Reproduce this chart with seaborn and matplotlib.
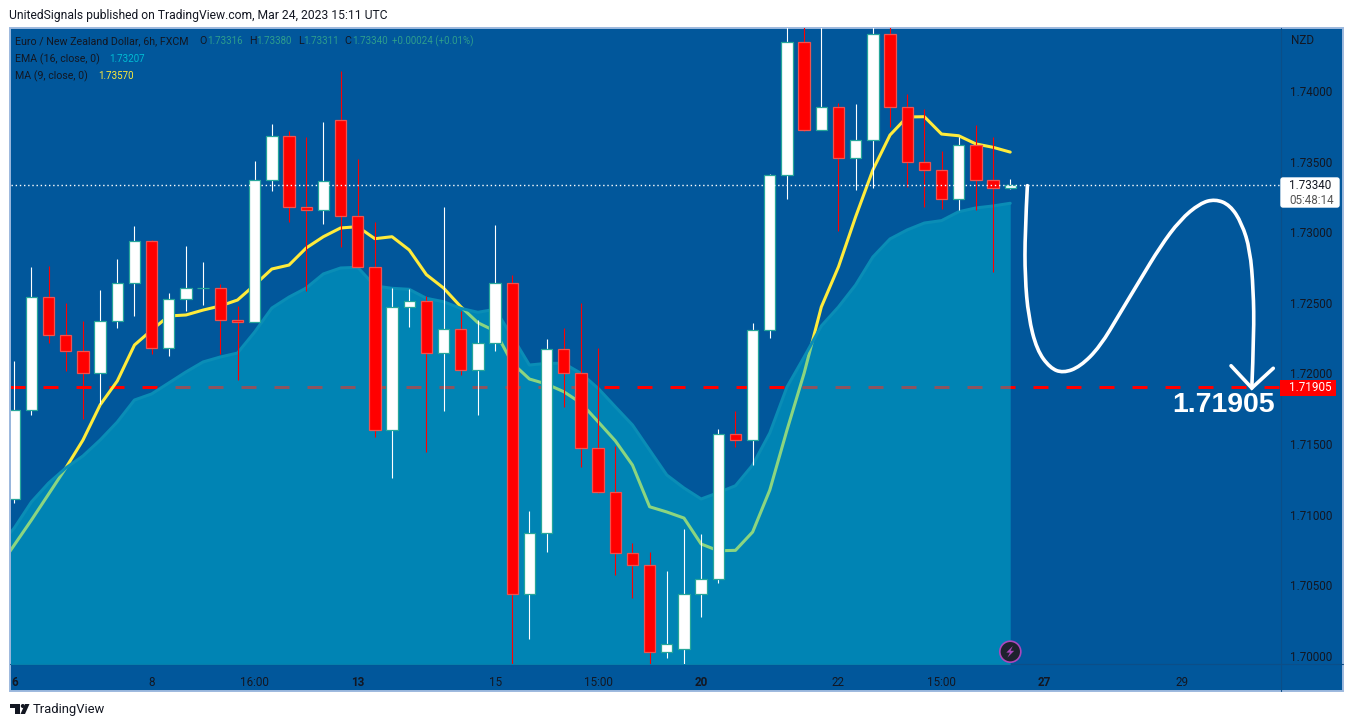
#!/usr/bin/env python
import numpy as np
import pandas as pd
import seaborn as sns
import matplotlib
matplotlib.use("Agg")
import matplotlib.pyplot as plt
from matplotlib.patches import Rectangle, Circle, Polygon, FancyBboxPatch, PathPatch
from matplotlib.path import Path

# candles, one per 6h bar
opens = [1.71108, 1.71739, 1.72540, 1.72271, 1.72157, 1.72001, 1.72370, 1.72640, 1.72938, 1.72179,
         1.72526, 1.72604, 1.72604, 1.72377, 1.72363, 1.73370, 1.73682, 1.73179, 1.73157, 1.73796,
         1.73115, 1.72753, 1.71597, 1.72469, 1.72512, 1.72143, 1.72313, 1.72023, 1.72214, 1.72640,
         1.70434, 1.70867, 1.72172, 1.72001, 1.71469, 1.71157, 1.70725, 1.70640, 1.70023, 1.70044,
         1.70434, 1.70540, 1.71569, 1.71526, 1.72306, 1.73406, 1.74349, 1.73725, 1.73888, 1.73526,
         1.73654, 1.74406, 1.73888, 1.73498, 1.73441, 1.73235, 1.73618, 1.73370, 1.73316]
highs = [1.72089, 1.72755, 1.72762, 1.72498, 1.72370, 1.72592, 1.72812, 1.73046, 1.72947, 1.72571,
         1.72904, 1.72791, 1.72635, 1.72479, 1.73507, 1.73769, 1.73720, 1.73675, 1.73784, 1.74145,
         1.73521, 1.73074, 1.72606, 1.72599, 1.72550, 1.73181, 1.72443, 1.72379, 1.73053, 1.72696,
         1.71025, 1.72245, 1.72323, 1.72498, 1.72183, 1.71486, 1.70796, 1.70734, 1.70599, 1.70897,
         1.70862, 1.71606, 1.71734, 1.72360, 1.73415, 1.74500, 1.74500, 1.74500, 1.73916, 1.73911,
         1.74500, 1.74500, 1.73982, 1.73874, 1.73576, 1.73675, 1.73760, 1.73675, 1.73380]
lows = [1.71084, 1.71706, 1.72214, 1.72020, 1.71675, 1.71784, 1.72325, 1.72408, 1.72138, 1.72126,
        1.72443, 1.72486, 1.72138, 1.71956, 1.72363, 1.73296, 1.73077, 1.72587, 1.73062, 1.72899,
        1.72753, 1.71550, 1.71261, 1.72332, 1.71445, 1.71736, 1.71989, 1.71708, 1.72162, 1.69900,
        1.70119, 1.70736, 1.71764, 1.71339, 1.71150, 1.70571, 1.70410, 1.69900, 1.69984, 1.69900,
        1.70275, 1.70516, 1.71481, 1.71353, 1.72254, 1.73237, 1.73720, 1.73725, 1.73011, 1.73303,
        1.73318, 1.73746, 1.73325, 1.73183, 1.73167, 1.73159, 1.73162, 1.72722, 1.73311]
closes = [1.71739, 1.72540, 1.72271, 1.72157, 1.72001, 1.72370, 1.72640, 1.72938, 1.72179, 1.72526,
          1.72604, 1.72606, 1.72377, 1.72363, 1.73370, 1.73682, 1.73179, 1.73157, 1.73363, 1.73115,
          1.72753, 1.71597, 1.72469, 1.72512, 1.72143, 1.72313, 1.72023, 1.72214, 1.72640, 1.70434,
          1.70867, 1.72172, 1.72001, 1.71469, 1.71157, 1.70725, 1.70640, 1.70023, 1.70079, 1.70434,
          1.70540, 1.71569, 1.71526, 1.72306, 1.73406, 1.74349, 1.73725, 1.73888, 1.73526, 1.73654,
          1.74406, 1.73888, 1.73498, 1.73441, 1.73235, 1.73618, 1.73370, 1.73313, 1.73340]

# indicators start one bar before the first visible candle
ma_values = [1.70606, 1.70784, 1.70961, 1.71145, 1.71330, 1.71528, 1.71777, 1.71947, 1.72202, 1.72308,
             1.72408, 1.72415, 1.72450, 1.72479, 1.72521, 1.72628, 1.72741, 1.72769, 1.72890, 1.72970,
             1.73032, 1.73041, 1.72956, 1.72970, 1.72876, 1.72701, 1.72606, 1.72474, 1.72360, 1.72301,
             1.72074, 1.71961, 1.71925, 1.71871, 1.71791, 1.71658, 1.71523, 1.71351, 1.71055, 1.71018,
             1.70975, 1.70791, 1.70743, 1.70746, 1.70876, 1.71174, 1.71599, 1.72003, 1.72472, 1.72757,
             1.73112, 1.73443, 1.73691, 1.73819, 1.73821, 1.73698, 1.73686, 1.73628, 1.73604, 1.73570]
ema_values = [1.70762, 1.70904, 1.71089, 1.71223, 1.71330, 1.71415, 1.71528, 1.71656, 1.71812, 1.71855,
              1.71933, 1.72011, 1.72082, 1.72117, 1.72145, 1.72294, 1.72464, 1.72542, 1.72606, 1.72706,
              1.72748, 1.72753, 1.72621, 1.72604, 1.72597, 1.72533, 1.72509, 1.72462, 1.72434, 1.72455,
              1.72261, 1.72060, 1.72072, 1.72072, 1.72001, 1.71895, 1.71764, 1.71635, 1.71457, 1.71280,
              1.71188, 1.71110, 1.71155, 1.71204, 1.71351, 1.71578, 1.71904, 1.72117, 1.72337, 1.72472,
              1.72628, 1.72826, 1.72954, 1.73018, 1.73067, 1.73084, 1.73147, 1.73174, 1.73188, 1.73207]

# hand drawn forecast on top of the chart
sketch_bars = [59.0, 58.86, 58.86, 59.06, 59.55, 60.32, 61.08, 62.07, 63.23, 64.40, 65.56,
               66.73, 67.89, 69.05, 69.93, 70.80, 71.49, 71.97, 72.16, 72.20, 72.07]
sketch_prices = [1.73332, 1.72996, 1.72686, 1.72403, 1.72167, 1.72039, 1.72003, 1.72048, 1.72190, 1.72429, 1.72663,
                 1.72899, 1.73089, 1.73207, 1.73237, 1.73195, 1.73065, 1.72876, 1.72592, 1.72287, 1.71897]
head_bars = [70.86, 72.07, 73.32]
head_prices = [1.72055, 1.71897, 1.72037]

target_price = 1.71905
last_price = 1.73340

price_ticks = [1.70, 1.705, 1.71, 1.715, 1.72, 1.725, 1.73, 1.735, 1.74]
time_ticks = [0, 8, 14, 20, 28, 34, 40, 48, 54, 60, 68]
time_labels = ["6", "8", "16:00", "13", "15", "15:00", "20", "22", "15:00", "27", "29"]
bold_labels = ["6", "13", "20", "27"]

BG = "#01579B"
DARK = "#131722"
UP_EDGE = "#26A69A"
DOWN_EDGE = "#EF5350"
FONT = "Roboto"

sns.set_theme(style="white", rc={"font.family": FONT, "font.size": 8.4})

W, H = 1354, 727
XMIN, XMAX = -0.22, 73.77
fig = plt.figure(figsize=(W / 100, H / 100), dpi=100, facecolor="white")


def pane(left, top, right, bottom, z):
    a = fig.add_axes([left / W, 1 - bottom / H, (right - left) / W, (bottom - top) / H], zorder=z)
    return a


# backdrop and overlay are both in pixel coordinates
back = pane(0, 0, W, H, 0)
back.set_xlim(0, W)
back.set_ylim(H, 0)
back.axis("off")
back.add_patch(Rectangle((10, 28), 1333, 663, fc=BG, ec="#9DB9DE", lw=1.4))
back.plot([1281, 1281], [28, 691], color="#0B4E88", lw=0.8)
back.plot([10, 1343], [664, 664], color="#0B4E88", lw=0.8)

ax = pane(10.5, 28, 1281, 664, 1)
ax.patch.set_alpha(0)

over = pane(0, 0, W, H, 2)
over.set_xlim(0, W)
over.set_ylim(H, 0)
over.axis("off")

candles = pd.DataFrame({"open": opens, "high": highs, "low": lows, "close": closes})
candles["bar"] = np.arange(len(candles))
candles["up"] = candles["close"] >= candles["open"]
indicators = pd.DataFrame({"bar": np.arange(-1, len(ma_values) - 1), "ma": ma_values, "ema": ema_values})

# dashed level and MA go under the translucent area, so they change colour inside it
ax.plot([XMIN, XMAX], [target_price, target_price], color="#FF0000", lw=2.16, dashes=(5, 6),
        dash_capstyle="butt", zorder=2)
sns.lineplot(data=indicators, x="bar", y="ma", ax=ax, color="#FFEB3B", lw=2.2, sort=False,
             estimator=None, zorder=2.5, solid_capstyle="round")
ax.fill_between(indicators["bar"], indicators["ema"], 1.69, color="#00BCD4", alpha=0.45, lw=0, zorder=3)
sns.lineplot(data=indicators, x="bar", y="ema", ax=ax, color="#0A8DB6", lw=2.2, sort=False,
             estimator=None, zorder=3.2, solid_capstyle="round")

for up, group in candles.groupby("up"):
    colour = "white" if up else "#FF0000"
    edge = UP_EDGE if up else DOWN_EDGE
    # separate Line2D per wick, those snap to whole pixels
    ax.plot(np.vstack([group["bar"], group["bar"]]), np.vstack([group["low"], group["high"]]),
            color=colour, lw=0.8, solid_capstyle="butt", zorder=4)
    ax.bar(group["bar"], (group["close"] - group["open"]).abs(),
           bottom=group[["open", "close"]].min(axis=1), width=0.66,
           facecolor=colour, edgecolor=edge, linewidth=0.9, zorder=5)

ax.axhline(last_price, color="white", lw=1.0, dashes=(1, 2), zorder=6)

# forecast curve, control points smoothed with quadratic segments
pts = np.column_stack([sketch_bars, sketch_prices])
verts = [pts[0]]
codes = [Path.MOVETO]
for i in range(1, len(pts) - 1):
    end = pts[i + 1] if i == len(pts) - 2 else (pts[i] + pts[i + 1]) / 2
    verts += [pts[i], end]
    codes += [Path.CURVE3, Path.CURVE3]
ax.add_patch(PathPatch(Path(verts, codes), fc="none", ec="white", lw=2.6, capstyle="round", zorder=7))
sns.lineplot(x=head_bars, y=head_prices, ax=ax, color="white", lw=2.6, sort=False, estimator=None,
             zorder=7, solid_capstyle="round", solid_joinstyle="miter")

ax.set_xlim(XMIN, XMAX)
ax.set_ylim(1.69940, 1.74450)
ax.set_xticks(time_ticks)
ax.set_xticklabels(time_labels)
ax.set_yticks(price_ticks)
ax.set_yticklabels([f"{p:.5f}" for p in price_ticks])
ax.yaxis.tick_right()
ax.tick_params(axis="x", length=0, pad=9, labelsize=8.4, labelcolor=DARK)
ax.tick_params(axis="y", length=0, pad=6.5, labelsize=8.4, labelcolor=DARK)
for lab in ax.get_xticklabels():
    if lab.get_text() in bold_labels:
        lab.set_fontweight("bold")
ax.set_xlabel("")
ax.set_ylabel("")
sns.despine(ax=ax, left=True, bottom=True, right=True, top=True)


def label(x, y, s, color=DARK, ha="left", size=8.4, weight="normal"):
    over.text(x, y, s, color=color, ha=ha, va="center", fontsize=size, fontweight=weight)


label(9, 15, "UnitedSignals published on TradingView.com, Mar 24, 2023 15:11 UTC", size=8.7)
label(33, 709, "TradingView", size=9.4)

green = "#2E9E8C"
value_size = 7.0
label(15, 41, "Euro / New Zealand Dollar, 6h, FXCM", size=7.7)
label(199, 41, "O", size=7.7)
label(207, 41, "1.73316", green, size=value_size)
label(249, 41, "H", size=7.7)
label(256, 41, "1.73380", green, size=value_size)
label(298, 41, "L", size=7.7)
label(303, 41, "1.73311", green, size=value_size)
label(344, 41, "C", size=7.7)
label(352, 41, "1.73340", green, size=value_size)
label(392, 41, "+0.00024 (+0.01%)", green, size=value_size)
label(15, 59, "EMA (16, close, 0)", size=7.7)
label(109, 59, "1.73207", "#00BCD4", size=value_size)
label(15, 76, "MA (9, close, 0)", size=7.7)
label(98, 76, "1.73570", "#FFEB3B", size=value_size)
label(1291, 40, "NZD")

# price labels on the scale
over.add_patch(FancyBboxPatch((1281, 178), 58, 29, boxstyle="round,pad=0,rounding_size=2", fc="white", ec="white", lw=1))
label(1310, 185.5, "1.73340", "#131722", ha="center")
label(1312, 200, "05:48:14", "#555555", ha="center")
over.add_patch(Rectangle((1280, 379.5), 56, 16, fc="#FF0000", ec="none"))
label(1310, 387.5, "1.71905", "white", ha="center")
over.text(1275, 405, "1.71905", color="white", ha="right", va="center", fontsize=20.5,
          fontweight="bold", family="Liberation Sans")

# lightning badge
over.add_patch(Circle((1010.3, 651.7), 10.5, fc="#1E222D", ec="#AB47BC", lw=1.2))
over.add_patch(Polygon([(1012.8, 646), (1006.3, 652.6), (1010, 652.6), (1007.4, 657.6), (1014.2, 650.8), (1010.6, 650.8)],
                       fc="#AB47BC", ec="none"))

# TradingView mark
over.add_patch(Polygon([(10, 704), (20, 704), (20, 714), (15, 714), (15, 708), (10, 708)], fc=DARK, ec="none"))
over.add_patch(Circle((22.8, 706), 2, fc=DARK, ec="none"))
over.add_patch(Polygon([(25, 704), (29.5, 704), (25, 714), (20.5, 714)], fc=DARK, ec="none"))

fig.savefig("out.png", dpi=100, facecolor="white")
plt.close(fig)
